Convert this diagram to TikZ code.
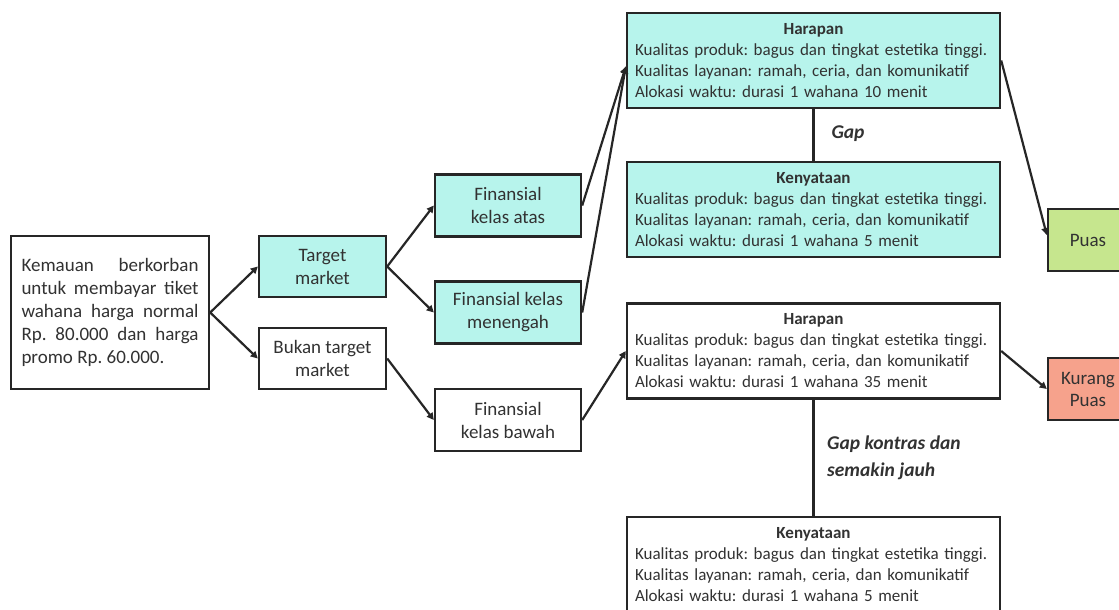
\documentclass[tikz,border=0pt]{standalone}
\usepackage{fontspec}
\setmainfont{Carlito}
\usetikzlibrary{arrows.meta}
\definecolor{cyanfill}{RGB}{183,244,236}
\definecolor{greenfill}{RGB}{198,230,142}
\definecolor{salmonfill}{RGB}{246,162,140}
\definecolor{linecol}{RGB}{38,38,38}
\definecolor{textcol}{RGB}{50,50,50}
\frenchspacing
\tikzset{
  box/.style={draw=linecol, line width=2.4pt, inner sep=0pt, text=textcol, align=center,
    font=\fontsize{19}{23}\selectfont},
  smallbox/.style={box, minimum width=127pt, minimum height=61pt},
  finbox/.style={box, minimum width=146pt, minimum height=62pt},
  infobox/.style={box, minimum width=373pt, minimum height=95pt, text width=357pt, align=left,
    font=\fontsize{17}{21}\selectfont},
  endbox/.style={box, minimum width=80pt, minimum height=62pt},
  arr/.style={draw=linecol, line width=2.2pt, -{Triangle[length=7pt,width=7pt]}},
  gapline/.style={draw=linecol, line width=2.4pt},
  gaplabel/.style={text=textcol, font=\fontsize{19.5}{27}\selectfont\bfseries\itshape, align=left, inner sep=0pt}
}
\begin{document}
\begin{tikzpicture}[x=1pt,y=-1pt]
\useasboundingbox (0,0) rectangle (1119,610);
\fill[white] (0,0) rectangle (1119,610);
\clip (0,0) rectangle (1119,610);

\node[box, minimum width=198pt, minimum height=153pt, text width=177pt, align=justify] (src) at (110,312.5)
  {\frenchspacing Kemauan berkorban\linebreak untuk membayar tiket\linebreak wahana harga normal\linebreak Rp. 80.000 dan harga\linebreak promo Rp. 60.000.};

\node[smallbox, fill=cyanfill] (tm) at (322.5,266.5) {Target\\market};
\node[smallbox] (btm) at (322.5,358.5) {Bukan target\\market};

\node[finbox, fill=cyanfill] (fa) at (508,205.5) {Finansial\\kelas atas};
\node[finbox, fill=cyanfill] (fm) at (508,312.5) {Finansial kelas\\menengah};
\node[finbox] (fb) at (508,420) {Finansial\\kelas bawah};

\node[infobox, fill=cyanfill] (h1) at (813.5,60.5)
  {\frenchspacing\makebox[\linewidth]{\bfseries Harapan}\\
   Kualitas produk: bagus dan tingkat estetika tinggi.\\
   Kualitas layanan: ramah, ceria, dan komunikatif\\
   Alokasi waktu: durasi 1 wahana 10 menit};
\node[infobox, fill=cyanfill] (k1) at (813.5,209.5)
  {\frenchspacing\makebox[\linewidth]{\bfseries Kenyataan}\\
   Kualitas produk: bagus dan tingkat estetika tinggi.\\
   Kualitas layanan: ramah, ceria, dan komunikatif\\
   Alokasi waktu: durasi 1 wahana 5 menit};
\node[infobox, fill=white] (h2) at (813.5,351)
  {\frenchspacing\makebox[\linewidth]{\bfseries Harapan}\\
   Kualitas produk: bagus dan tingkat estetika tinggi.\\
   Kualitas layanan: ramah, ceria, dan komunikatif\\
   Alokasi waktu: durasi 1 wahana 35 menit};
\node[infobox, fill=white] (k2) at (813.5,564.5)
  {\frenchspacing\makebox[\linewidth]{\bfseries Kenyataan}\\
   Kualitas produk: bagus dan tingkat estetika tinggi.\\
   Kualitas layanan: ramah, ceria, dan komunikatif\\
   Alokasi waktu: durasi 1 wahana 5 menit};

\node[endbox, fill=greenfill] (puas) at (1088,240) {Puas};
\node[endbox, fill=salmonfill, font=\fontsize{19}{22}\selectfont] (kp) at (1088,389) {Kurang\\Puas};

\draw[gapline] (h1.south) -- (k1.north);
\draw[gapline] (h2.south) -- (k2.north);
\node[gaplabel] (gap1) at (848,134) {Gap};
\node[gaplabel, anchor=west] (gap2) at (827,458) {Gap kontras dan\\semakin jauh};

\draw[arr] (src.east) -- (tm.west);
\draw[arr] (src.east) -- (btm.west);
\draw[arr] (tm.east) -- (fa.west);
\draw[arr] (tm.east) -- (fm.west);
\draw[arr] (btm.east) -- (fb.west);
\draw[arr] (fa.east) -- ([yshift=-6pt]h1.west);
\draw[arr] (fm.east) -- ([yshift=-6pt]h1.west);
\draw[arr] (fb.east) -- (h2.west);
\draw[arr] (h1.east) -- ([yshift=5pt]puas.west);
\draw[arr] (h2.east) -- (kp.west);
\end{tikzpicture}
\end{document}
